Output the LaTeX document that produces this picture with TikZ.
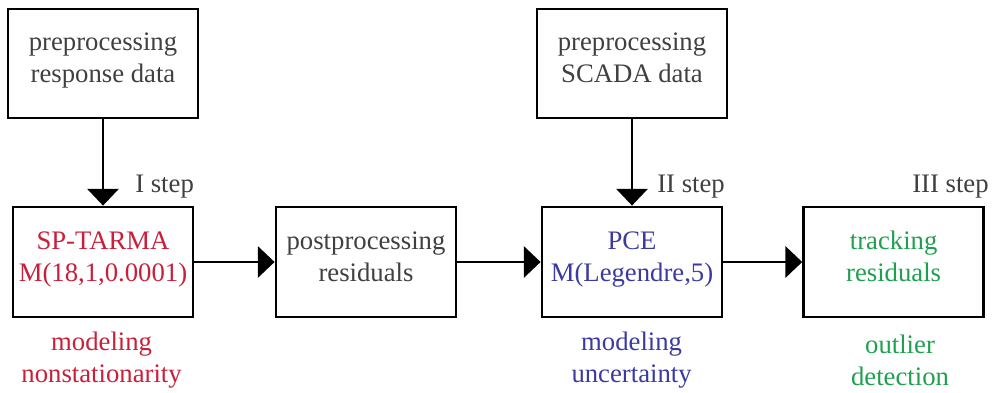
\documentclass[tikz,border=0pt]{standalone}
\usepackage{fontspec}
\setmainfont{Liberation Serif}
\usepackage{xcolor}
\usetikzlibrary{arrows.meta,positioning}

\definecolor{txtgray}{HTML}{404040}
\definecolor{modred}{HTML}{C8203A}
\definecolor{modblue}{HTML}{3A3AA0}
\definecolor{modgreen}{HTML}{1FA050}

\begin{document}
\begin{tikzpicture}[
    font=\fontsize{19}{22.6}\selectfont,
    >={Triangle[length=0.42cm, width=0.78cm]},
    box/.style={draw, line width=2pt, align=center, minimum width=4.5cm, minimum height=2.75cm, text=txtgray, inner sep=2pt,
        execute at end node={\rule[-0.28cm]{0pt}{0pt}}},
    prebox/.style={box, minimum width=4.75cm, minimum height=2.725cm},
    steplabel/.style={anchor=west, inner sep=0pt, text=txtgray},
    note/.style={align=center, inner sep=0pt},
    arrow/.style={->, line width=2pt}
]
\useasboundingbox (0,0) rectangle (24.95,9.8);
\node[prebox] (preresp) at (2.575,8.2125) {preprocessing\\response data};
\node[prebox] (prescada) at (15.8,8.2125) {preprocessing\\SCADA data};
\node[box, text=modred] (tarma) at (2.575,3.25) {SP-TARMA\\M(18,1,0.0001)};
\node[box] (postres) at (9.15,3.25) {postprocessing\\residuals};
\node[box, text=modblue] (pce) at (15.8,3.25) {PCE\\M(Legendre,5)};
\node[box, text=modgreen] (track) at (22.34,3.25) {tracking\\residuals};
\node[steplabel] (stepone) at (3.375,5.125) {I step};
\node[steplabel] (steptwo) at (16.425,5.125) {II step};
\node[steplabel] (stepthree) at (22.8,5.125) {III step};
\node[note, text=modred] (nonstat) at (2.54,0.8) {modeling\\nonstationarity};
\node[note, text=modblue] (uncert) at (15.79,0.8) {modeling\\uncertainty};
\node[note, text=modgreen] (outlier) at (22.5,0.8) {outlier\\detection};
\draw[arrow] (preresp) -- (tarma);
\draw[arrow] (prescada) -- (pce);
\draw[arrow] (tarma) -- (postres);
\draw[arrow] (postres) -- (pce);
\draw[arrow] (pce) -- (track);
\end{tikzpicture}
\end{document}
